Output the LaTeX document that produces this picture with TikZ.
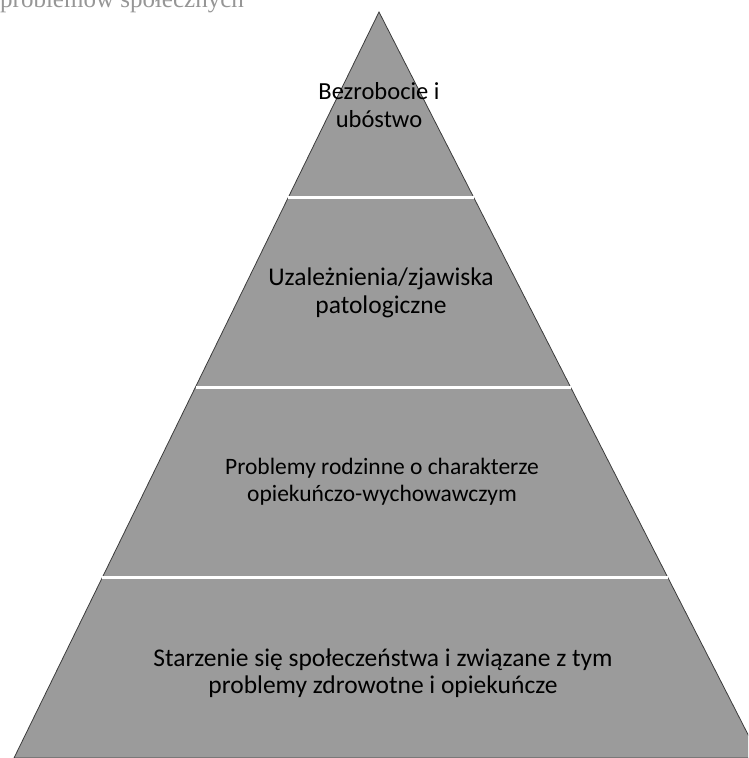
\documentclass[tikz,border=0pt]{standalone}
\usepackage{fontspec}
\setmainfont{Carlito}
\newfontfamily\scanserif{Liberation Serif}
\usetikzlibrary{calc}
\definecolor{pyrfill}{RGB}{155,155,155}
\definecolor{pyredge}{RGB}{60,60,60}
\definecolor{headgray}{RGB}{150,150,150}
\tikzset{
  pyramid/.style={fill=pyrfill, draw=pyredge, line width=0.8pt},
  sepline/.style={draw=white, line width=3pt},
  label/.style={align=center, text=black, inner sep=0pt},
  headtext/.style={anchor=base west, inner sep=0pt, text=headgray, font=\scanserif\fontsize{25}{30}\selectfont}
}
\begin{document}
\begin{tikzpicture}[x=1pt,y=-1pt]
\useasboundingbox (0,0) rectangle (748,758);
\clip (0,0) rectangle (748,758);
\node[headtext] (head) at (0,7) {problemów społecznych};
\coordinate (apex) at (379,12);
\coordinate (bl) at (14,758);
\coordinate (br) at (760,758);
\path[pyramid] (apex) -- (bl) -- (br) -- cycle;
\coordinate (s1l) at ($(apex)!0.2493!(bl)$);
\coordinate (s1r) at ($(apex)!0.2493!(br)$);
\coordinate (s2l) at ($(apex)!0.5027!(bl)$);
\coordinate (s2r) at ($(apex)!0.5027!(br)$);
\coordinate (s3l) at ($(apex)!0.7587!(bl)$);
\coordinate (s3r) at ($(apex)!0.7587!(br)$);
\draw[sepline] (s1l) -- (s1r);
\draw[sepline] (s2l) -- (s2r);
\draw[sepline] (s3l) -- (s3r);
\node[label, font=\fontsize{24.5}{28}\selectfont] (t1) at (379,105) {Bezrobocie i\\ubóstwo};
\node[label, font=\fontsize{25.5}{28}\selectfont] (t2) at (381,293) {Uzależnienia/zjawiska\\patologiczne};
\node[label, font=\fontsize{23.5}{27}\selectfont] (t3) at (382,482) {Problemy rodzinne o charakterze\\opiekuńczo-wychowawczym};
\node[label, font=\fontsize{25.5}{27}\selectfont] (t4) at (383,673) {Starzenie się społeczeństwa i związane z tym\\problemy zdrowotne i opiekuńcze};
\end{tikzpicture}
\end{document}
